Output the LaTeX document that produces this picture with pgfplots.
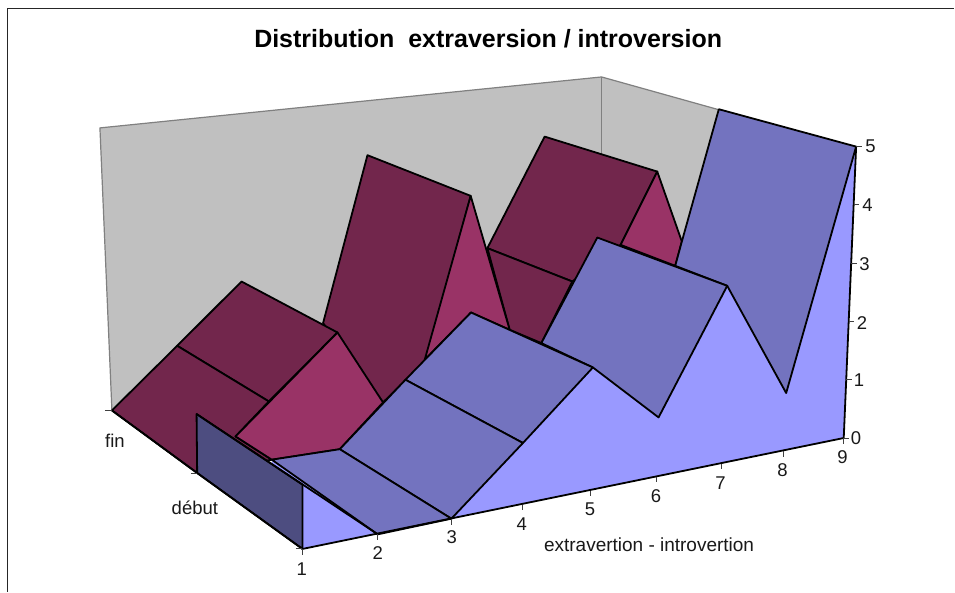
\documentclass[border=0pt]{standalone}
\usepackage{pgfplots}
\pgfplotsset{compat=1.18}
\usepackage{fontspec}
\setmainfont{Liberation Sans}
\definecolor{wallc}{HTML}{C0C0C0}
\definecolor{maroonc}{HTML}{72264C}
\definecolor{pinkc}{HTML}{993366}
\definecolor{blueface}{HTML}{7373BF}
\definecolor{lightc}{HTML}{9999FF}
\definecolor{sidec}{HTML}{4D4D80}
\begin{document}
\begin{tikzpicture}[x=1bp,y=1bp]
\begin{axis}[
  at={(0,0)},anchor=south west,
  width=955bp,height=592bp,scale only axis,
  xmin=0,xmax=955,ymin=0,ymax=592,y dir=reverse,
  hide axis,clip=false,
  every axis plot/.append style={line join=round},
  face/.style={fill=#1,draw=black,line width=1.8bp,forget plot},
  tick/.style={draw=black!75,line width=0.9bp,forget plot},
]
\path[fill=white,draw=none] (axis cs:0,0) rectangle (axis cs:955,592);
% frame
\addplot[draw=black!85,line width=1.3bp,forget plot] coordinates {(7.5,592)(7.5,8.5)(955,8.5)};
% walls
\addplot[fill=wallc,draw=none,forget plot] coordinates {(100,128)(602,77)(720,110)(720,300)(300,450)(112,411)} -- cycle;
\addplot[draw=black!50,line width=1.2bp,forget plot] coordinates {(112,411)(100,128)(602,77)(720,110)};
\addplot[draw=black!50,line width=1.2bp,forget plot] coordinates {(602,77)(602,160)};
% back series
\addplot[face=maroonc] coordinates {(487.7,248.3)(545,136.7)(657.7,171.7)(621,245)(572.7,281.7)} -- cycle;
\addplot[face=maroonc] coordinates {(487.7,248.3)(572.7,281.7)(541.7,343.3)(510,330)} -- cycle;
\addplot[face=pinkc] coordinates {(657.7,171.7)(682.3,241.7)(675.7,266)(621,245)} -- cycle;
\addplot[face=maroonc] coordinates {(367.7,155.3)(471,196)(426.7,360)(383.3,402.7)(323.3,323.3)} -- cycle;
\addplot[face=pinkc] coordinates {(471,196)(510,330)(471.3,312.7)(425,360)} -- cycle;
\addplot[face=maroonc] coordinates {(177.3,346)(241.7,281.7)(337.7,332.7)(269,401.7)} -- cycle;
\addplot[face=maroonc] coordinates {(112,410.7)(177.3,346)(269,401.7)(235.7,436.7)(272,460)(197.3,473.3)} -- cycle;
\addplot[face=pinkc] coordinates {(337.7,332.7)(383.3,402.7)(340,449.5)(272,460)(235.7,436.7)} -- cycle;
% front series, underside
\addplot[fill=lightc,draw=none,forget plot] coordinates {(302.7,549.3)(302.7,485)(378,534.7)(451.7,519)(593.3,367.7)(659,417.7)(727.7,286)(786.7,393.3)(856.7,146.7)(844.3,438.3)} -- cycle;
\addplot[fill=lightc,draw=none,forget plot] coordinates {(272,460)(378,534.7)(302.7,485)(272,464.5)} -- cycle;
% front series, faces
\addplot[face=blueface] coordinates {(719.3,109.3)(856.7,146.7)(786.7,393.3)(727.7,286)(675.7,266)(682.3,241.7)} -- cycle;
\addplot[face=blueface] coordinates {(597.7,237.7)(727.7,286)(659,417.7)(593.3,367.7)(541.7,343.3)} -- cycle;
\addplot[face=blueface] coordinates {(471.3,312.7)(593.3,367.7)(523.3,443.3)(405.7,380)} -- cycle;
\addplot[face=blueface] coordinates {(405.7,380)(523.3,443.3)(451.7,519)(340,449.5)} -- cycle;
\addplot[face=blueface] coordinates {(340,449.5)(451.7,519)(378,534.7)(272,460)} -- cycle;
% side wall of the front series
\addplot[face=sidec] coordinates {(196.7,414.3)(197.3,473.3)(302.7,549.3)(302.7,485)} -- cycle;
\addplot[draw=black,line width=1.8bp,forget plot] coordinates {(196.7,414.3)(378,534.7)};
% axes edges
\addplot[draw=black,line width=1.8bp,forget plot] coordinates {(112,410.7)(197.3,473.3)};
\addplot[draw=black,line width=1.8bp,forget plot] coordinates {(197.3,473.3)(302.7,549.3)(844.3,438.3)(856.7,146.7)};
% z ticks
\addplot[tick] coordinates {(857,146.5)(862.5,146.5)};
\addplot[tick] coordinates {(854.3,205)(859.8,205)};
\addplot[tick] coordinates {(851.8,263.5)(857.3,263.5)};
\addplot[tick] coordinates {(849.4,322)(854.9,322)};
\addplot[tick] coordinates {(847,380)(852.5,380)};
\addplot[tick] coordinates {(844.3,438.3)(849.8,438.3)};
% x ticks
\addplot[tick] coordinates {(302.7,549.3)(302.7,555)};
\addplot[tick] coordinates {(378,534.7)(378,540)};
\addplot[tick] coordinates {(451.7,519)(451.7,525)};
\addplot[tick] coordinates {(522.7,505)(522.7,510.5)};
\addplot[tick] coordinates {(591.3,491)(591.3,496.5)};
\addplot[tick] coordinates {(657,477)(657,482.5)};
\addplot[tick] coordinates {(721.7,464)(721.7,469.5)};
\addplot[tick] coordinates {(783.5,451.5)(783.5,457)};
\addplot[tick] coordinates {(844.3,438.3)(844.3,444.5)};
% y ticks
\addplot[tick] coordinates {(105,410.7)(112,410.7)};
\addplot[tick] coordinates {(191,473.3)(197.3,473.3)};
\addplot[tick] coordinates {(296,549.3)(302.7,549.3)};
% text
\def\lab#1#2#3{\node[font=\fontsize{18.5bp}{20bp}\selectfont,inner sep=0pt,anchor=center,text=black!90] at (axis cs:#1,#2) {#3};}
\lab{871}{146.5}{5}\lab{868}{205}{4}\lab{865}{264}{3}\lab{862.5}{323}{2}\lab{859.5}{380.5}{1}\lab{856.5}{438}{0}
\lab{302}{570}{1}\lab{378}{553.5}{2}\lab{452}{537}{3}\lab{522}{524}{4}\lab{590.5}{510}{5}\lab{656.5}{496}{6}\lab{721}{483.5}{7}\lab{783}{470.5}{8}\lab{843}{457.5}{9}
\lab{115}{441.5}{fin}\lab{195}{508}{début}
\node[font=\fontsize{19bp}{20bp}\selectfont,inner sep=0pt,anchor=center,text=black!90] at (axis cs:649.5,545) {extravertion - introvertion};
\node[font=\fontsize{25bp}{28bp}\selectfont\bfseries,inner sep=0pt,anchor=center] at (axis cs:488.5,38.5) {Distribution\ \ extraversion / introversion};
\end{axis}
\end{tikzpicture}
\end{document}
